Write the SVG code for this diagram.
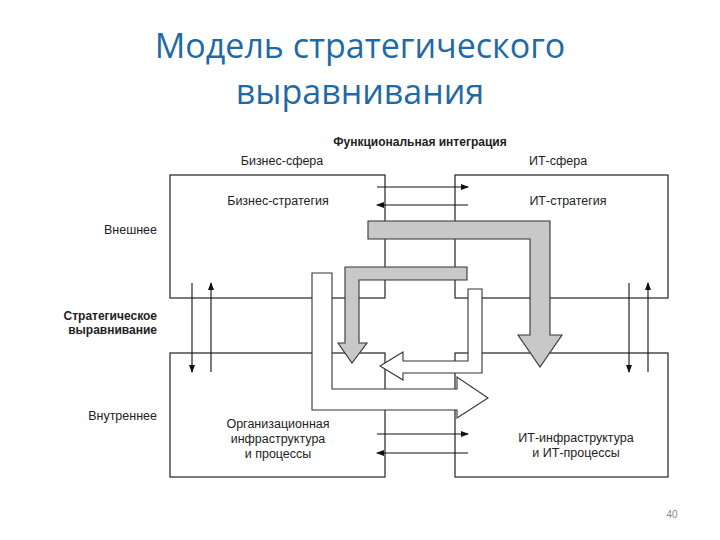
<svg xmlns="http://www.w3.org/2000/svg" width="720" height="540" viewBox="0 0 720 540">
<defs>
<marker id="ah" markerWidth="8" markerHeight="6" refX="7" refY="3" orient="auto" markerUnits="userSpaceOnUse"><path d="M0,0 L8,3 L0,6 Z" fill="#111"/></marker>
<style>
.box{fill:none;stroke:#222;stroke-width:1.2}
.t{font-family:"Liberation Sans",Arial,sans-serif;font-size:12.5px;fill:#222}
.b{font-weight:bold;font-size:12px}
.ln{stroke:#111;stroke-width:1.1;fill:none;marker-end:url(#ah)}
.g{fill:#c8c8c8;stroke:#333;stroke-width:1.1}
.w{fill:#fff;stroke:#333;stroke-width:1.1}
.title{font-family:"Open Sans","Noto Sans",sans-serif;font-size:34px;fill:#1f6aa5;text-anchor:middle}
</style>
</defs>
<rect width="720" height="540" fill="#fff"/>
<text class="title" x="360" y="58">Модель стратегического</text>
<text class="title" x="360" y="104">выравнивания</text>

<g id="labels">
<text class="t b" x="420" y="146" text-anchor="middle">Функциональная интеграция</text>
<text class="t" x="282" y="165" text-anchor="middle">Бизнес-сфера</text>
<text class="t" x="558" y="165" text-anchor="middle">ИТ-сфера</text>
<text class="t" x="157" y="234" text-anchor="end">Внешнее</text>
<text class="t b" x="157" y="320" text-anchor="end">Стратегическое</text>
<text class="t b" x="157" y="334" text-anchor="end">выравнивание</text>
<text class="t" x="157" y="420" text-anchor="end">Внутреннее</text>
</g>

<g id="business-strategy"><rect class="box" x="170" y="175" width="215" height="123"/>
<text class="t" x="278" y="205" text-anchor="middle">Бизнес-стратегия</text></g>
<g id="it-strategy"><rect class="box" x="455" y="175" width="213" height="123"/>
<text class="t" x="568" y="205" text-anchor="middle">ИТ-стратегия</text></g>
<g id="org-infra"><rect class="box" x="170" y="353" width="215" height="124"/>
<text class="t" x="278" y="428" text-anchor="middle">Организационная</text>
<text class="t" x="278" y="443" text-anchor="middle">инфраструктура</text>
<text class="t" x="278" y="458" text-anchor="middle">и процессы</text></g>
<g id="it-infra"><rect class="box" x="455" y="353" width="213" height="124"/>
<text class="t" x="576" y="442" text-anchor="middle">ИТ-инфраструктура</text>
<text class="t" x="576" y="457" text-anchor="middle">и ИТ-процессы</text></g>

<g id="connectors">
<line class="ln" x1="377" y1="187" x2="468" y2="187"/>
<line class="ln" x1="468" y1="205" x2="377" y2="205"/>
<line class="ln" x1="377" y1="434" x2="468" y2="434"/>
<line class="ln" x1="468" y1="453" x2="377" y2="453"/>
<line class="ln" x1="192" y1="283" x2="192" y2="372"/>
<line class="ln" x1="211" y1="372" x2="211" y2="283"/>
<line class="ln" x1="629" y1="283" x2="629" y2="372"/>
<line class="ln" x1="648" y1="372" x2="648" y2="283"/>
<path class="g" d="M368,221 H550 V335 H562 L540,367 L518,335 H530 V239 H368 Z"/>
<path class="g" d="M467,267 V280 H359 V343 H367 L352,363 L338,343 H345 V267 Z"/>
<path class="w" d="M468,289 H482 V373 H403 V380 L380,366 L403,352 V361 H468 Z"/>
<path class="w" d="M312,273 H332 V389 H457 V377 L488,398 L457,418 V410 H312 Z"/>
</g>
<text x="672" y="518" font-family="Liberation Sans,sans-serif" font-size="10" fill="#888" text-anchor="middle">40</text>
</svg>
